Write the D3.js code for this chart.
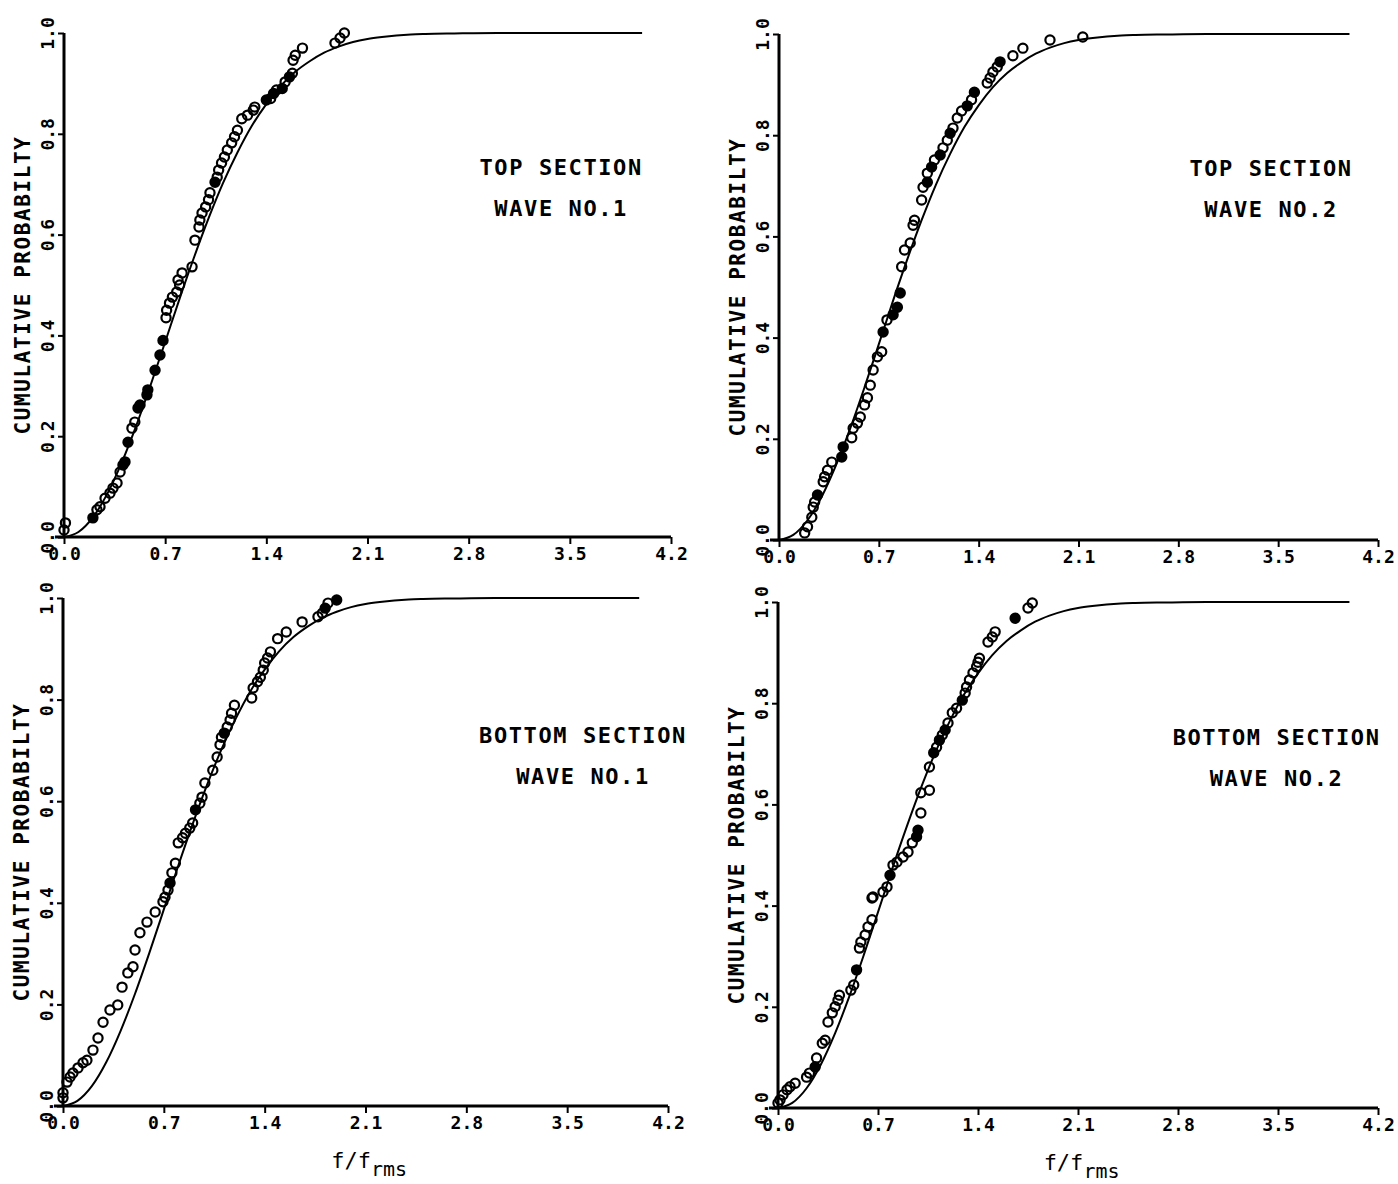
<!DOCTYPE html>
<html><head><meta charset="utf-8">
<script src="https://cdn.jsdelivr.net/npm/d3@7"></script>
<style>body{margin:0;background:#fff}svg{display:block}</style>
</head><body><svg id="c" width="1398" height="1184"></svg>
<script>
// ---------- data ----------
const xTicks = [0, 0.7, 1.4, 2.1, 2.8, 3.5, 4.2];
const yTicks = [0, 0.2, 0.4, 0.6, 0.8, 1.0];
const yTitle = "CUMULATIVE PROBABILTY";
// theoretical (Rayleigh) curve, read as points
const curveX = [0,0.1,0.2,0.3,0.4,0.5,0.6,0.7,0.8,0.9,1.0,1.1,1.2,1.3,1.4,1.5,1.6,1.7,1.8,1.9,2.0,2.1,2.2,2.3,2.4,2.5,2.7,3.0,3.5,4.0];
const curveY = [0,0.010,0.039,0.086,0.148,0.221,0.302,0.387,0.473,0.555,0.632,0.702,0.763,0.816,0.859,0.895,0.923,0.944,0.961,0.973,0.982,0.988,0.992,0.995,0.997,0.998,0.999,1.0,1.0,1.0];
// observed points: [f/frms, P, filled]
const topWave1 = [[0.00,0.014,0],[0.01,0.028,0],[0.20,0.038,1],[0.228,0.054,0],[0.249,0.06,0],[0.284,0.077,0],[0.318,0.087,0],[0.339,0.097,0],[0.367,0.107,0],[0.388,0.129,0],[0.408,0.143,1],[0.422,0.149,1],[0.443,0.188,1],[0.47,0.216,0],[0.49,0.228,0],[0.512,0.256,1],[0.526,0.262,1],[0.574,0.282,1],[0.58,0.292,1],[0.63,0.331,1],[0.664,0.361,1],[0.685,0.39,1],[0.706,0.435,0],[0.71,0.45,0],[0.73,0.464,0],[0.75,0.476,0],[0.78,0.486,0],[0.80,0.50,0],[0.789,0.51,0],[0.817,0.524,0],[0.886,0.536,0],[0.906,0.589,0],[0.934,0.615,0],[0.94,0.629,0],[0.955,0.643,0],[0.98,0.655,0],[1.0,0.669,0],[1.01,0.683,0],[1.045,0.704,1],[1.06,0.714,0],[1.07,0.728,0],[1.09,0.742,0],[1.11,0.754,0],[1.13,0.768,0],[1.16,0.782,0],[1.18,0.794,0],[1.20,0.807,0],[1.23,0.83,0],[1.27,0.837,0],[1.31,0.847,0],[1.32,0.853,0],[1.40,0.867,1],[1.43,0.87,0],[1.45,0.88,1],[1.47,0.887,0],[1.51,0.89,1],[1.53,0.903,0],[1.56,0.913,1],[1.58,0.92,0],[1.585,0.946,0],[1.60,0.956,0],[1.65,0.97,0],[1.875,0.98,0],[1.91,0.99,0],[1.94,1.0,0]];
const topWave2 = [[0.18,0.014,0],[0.20,0.026,0],[0.23,0.045,0],[0.24,0.065,0],[0.25,0.075,0],[0.27,0.089,1],[0.31,0.115,0],[0.32,0.125,0],[0.34,0.138,0],[0.37,0.154,0],[0.44,0.164,1],[0.45,0.184,1],[0.51,0.202,0],[0.52,0.221,0],[0.55,0.231,0],[0.57,0.243,0],[0.60,0.267,0],[0.62,0.281,0],[0.64,0.306,0],[0.66,0.336,0],[0.69,0.362,0],[0.72,0.372,0],[0.73,0.411,1],[0.757,0.435,0],[0.80,0.445,1],[0.83,0.46,1],[0.85,0.488,1],[0.86,0.54,0],[0.88,0.573,0],[0.92,0.587,0],[0.94,0.622,0],[0.95,0.632,0],[1.0,0.672,0],[1.01,0.697,0],[1.04,0.707,1],[1.04,0.725,0],[1.07,0.737,1],[1.09,0.751,0],[1.13,0.761,1],[1.15,0.775,0],[1.18,0.79,0],[1.20,0.804,1],[1.22,0.814,0],[1.25,0.834,0],[1.28,0.848,0],[1.32,0.858,1],[1.35,0.87,0],[1.37,0.885,1],[1.46,0.903,0],[1.48,0.913,0],[1.50,0.925,0],[1.53,0.935,0],[1.55,0.945,1],[1.64,0.957,0],[1.71,0.972,0],[1.90,0.988,0],[2.13,0.994,0]];
const bottomWave1 = [[0.0,0.016,0],[0.0,0.026,0],[0.028,0.047,0],[0.049,0.057,0],[0.069,0.065,0],[0.104,0.075,0],[0.139,0.085,0],[0.166,0.09,0],[0.208,0.11,0],[0.243,0.134,0],[0.278,0.165,0],[0.326,0.189,0],[0.38,0.199,0],[0.41,0.234,0],[0.45,0.262,0],[0.486,0.274,0],[0.50,0.307,0],[0.534,0.341,0],[0.583,0.362,0],[0.64,0.382,0],[0.694,0.402,0],[0.708,0.411,0],[0.729,0.425,0],[0.743,0.439,1],[0.756,0.459,0],[0.78,0.478,0],[0.80,0.518,0],[0.83,0.528,0],[0.85,0.537,0],[0.88,0.547,0],[0.90,0.557,0],[0.92,0.583,1],[0.95,0.596,0],[0.965,0.608,0],[0.985,0.636,0],[1.04,0.661,0],[1.07,0.687,0],[1.09,0.711,0],[1.10,0.726,0],[1.12,0.734,1],[1.14,0.746,0],[1.16,0.76,0],[1.17,0.773,0],[1.19,0.789,0],[1.31,0.803,0],[1.32,0.823,0],[1.35,0.835,0],[1.37,0.844,0],[1.39,0.858,0],[1.40,0.872,0],[1.42,0.882,0],[1.44,0.894,0],[1.49,0.92,0],[1.55,0.933,0],[1.66,0.953,0],[1.77,0.963,0],[1.80,0.97,0],[1.82,0.98,1],[1.84,0.99,0],[1.90,0.996,1]];
const bottomWave2 = [[0.0,0.01,0],[0.014,0.016,0],[0.035,0.026,0],[0.063,0.036,0],[0.084,0.042,0],[0.12,0.049,0],[0.20,0.061,0],[0.22,0.069,0],[0.26,0.081,1],[0.27,0.099,0],[0.31,0.128,0],[0.33,0.134,0],[0.35,0.17,0],[0.38,0.188,0],[0.40,0.20,0],[0.42,0.213,0],[0.43,0.223,0],[0.51,0.233,0],[0.53,0.243,0],[0.55,0.273,1],[0.57,0.316,0],[0.58,0.328,0],[0.61,0.342,0],[0.63,0.358,0],[0.658,0.372,0],[0.658,0.415,0],[0.665,0.417,0],[0.735,0.427,0],[0.763,0.437,0],[0.784,0.46,1],[0.805,0.48,0],[0.833,0.486,0],[0.875,0.496,0],[0.91,0.506,0],[0.94,0.524,0],[0.97,0.536,1],[0.98,0.549,1],[1.0,0.583,0],[1.0,0.623,0],[1.06,0.628,0],[1.06,0.674,0],[1.09,0.702,1],[1.11,0.713,0],[1.13,0.727,1],[1.15,0.737,0],[1.17,0.747,1],[1.19,0.761,0],[1.22,0.781,0],[1.25,0.79,0],[1.29,0.806,1],[1.31,0.82,0],[1.32,0.832,0],[1.34,0.846,0],[1.365,0.86,0],[1.39,0.872,0],[1.40,0.881,0],[1.41,0.889,0],[1.47,0.921,0],[1.50,0.931,0],[1.52,0.941,0],[1.66,0.968,1],[1.75,0.988,0],[1.78,0.998,0]];
const sectionNames = ["TOP SECTION","TOP SECTION","BOTTOM SECTION","BOTTOM SECTION"];
const waveNames = ["WAVE NO.1","WAVE NO.2","WAVE NO.1","WAVE NO.2"];
const noteAt = [[3.44,0.734],[3.45,0.735],[3.61,0.73],[3.49,0.733]];

// ---------- layout ----------
const panels = [
  {data: topWave1, left:64, right:671, bottom:537, top:33, xTitle:false},
  {data: topWave2, left:779, right:1378, bottom:540, top:34, xTitle:false},
  {data: bottomWave1, left:63, right:668, bottom:1106, top:598, xTitle:true},
  {data: bottomWave2, left:778, right:1378, bottom:1108, top:602, xTitle:true}
];
const FONT = "'DejaVu Sans Mono', monospace";
const svg = d3.select("#c");
svg.append("rect").attr("width",1398).attr("height",1184).attr("fill","#fff");
const curvePts = curveX.map((v,i)=>[v, curveY[i]]);

panels.forEach((p, i) => {
  const x = d3.scaleLinear().domain([0,4.2]).range([p.left, p.right]);
  const y = d3.scaleLinear().domain([0,1]).range([p.bottom, p.top]);
  const g = svg.append("g");

  // x axis
  const xa = g.append("g").attr("transform",`translate(0,${p.bottom})`)
    .call(d3.axisBottom(x).tickValues(xTicks).tickFormat(d3.format(".1f")).tickSize(7).tickSizeOuter(0));
  xa.select(".domain").remove();
  xa.selectAll(".tick line").attr("stroke","#000").attr("stroke-width",2);
  xa.selectAll(".tick text").attr("y",8).attr("dy","0.85em")
    .attr("font-family",FONT).attr("font-size",18).attr("font-weight","bold").attr("fill","#000");
  g.append("line").attr("x1",x(0)-9).attr("x2",x(4.2)).attr("y1",p.bottom).attr("y2",p.bottom)
    .attr("stroke","#000").attr("stroke-width",3);

  // y axis
  const ya = g.append("g").attr("transform",`translate(${p.left},0)`)
    .call(d3.axisLeft(y).tickValues(yTicks).tickFormat(d3.format(".1f")).tickSize(6).tickSizeOuter(0));
  ya.select(".domain").remove();
  ya.selectAll(".tick line").attr("stroke","#000").attr("stroke-width",2);
  ya.selectAll(".tick text").attr("x",null).attr("dy",null)
    .attr("transform","translate(-10,0) rotate(-90)")
    .attr("text-anchor","middle")
    .attr("font-family",FONT).attr("font-size",18).attr("font-weight","bold").attr("fill","#000");
  g.append("line").attr("x1",p.left).attr("x2",p.left).attr("y1",y(0)).attr("y2",y(1))
    .attr("stroke","#000").attr("stroke-width",3);

  // y title
  g.append("text")
    .attr("transform",`translate(${p.left-34},${(y(0)+y(1))/2}) rotate(-90)`)
    .attr("text-anchor","middle")
    .attr("font-family",FONT).attr("font-size",21).attr("font-weight","bold")
    .attr("letter-spacing",1.6)
    .text(yTitle);

  // curve
  g.append("path").datum(curvePts)
    .attr("d", d3.line().x(d=>x(d[0])).y(d=>y(d[1])).curve(d3.curveMonotoneX))
    .attr("fill","none").attr("stroke","#000").attr("stroke-width",2);

  // points
  g.selectAll("circle.pt").data(p.data).join("circle")
    .attr("class","pt")
    .attr("cx",d=>x(d[0])).attr("cy",d=>y(d[1])).attr("r",4.6)
    .attr("fill",d=>d[2]?"#000":"#fff")
    .attr("fill-opacity",d=>d[2]?1:0)
    .attr("stroke","#000").attr("stroke-width",2.2);

  // annotation
  const [nx, ny] = noteAt[i];
  g.append("text").attr("x",x(nx)).attr("y",y(ny)+8)
    .attr("text-anchor","middle").attr("font-family",FONT).attr("font-size",22).attr("font-weight","bold")
    .attr("letter-spacing",1.6).text(sectionNames[i]);
  g.append("text").attr("x",x(nx)).attr("y",y(ny)+49)
    .attr("text-anchor","middle").attr("font-family",FONT).attr("font-size",22).attr("font-weight","bold")
    .attr("letter-spacing",1.6).text(waveNames[i]);

  // x title
  if (p.xTitle) {
    const t = g.append("text").attr("x",(x(1.85)+x(2.4))/2).attr("y",p.bottom+62)
      .attr("text-anchor","middle").attr("font-family",FONT).attr("font-size",22);
    t.append("tspan").text("f/f");
    t.append("tspan").attr("dy",8).attr("font-size",20).text("rms");
  }
});
</script></body></html>
